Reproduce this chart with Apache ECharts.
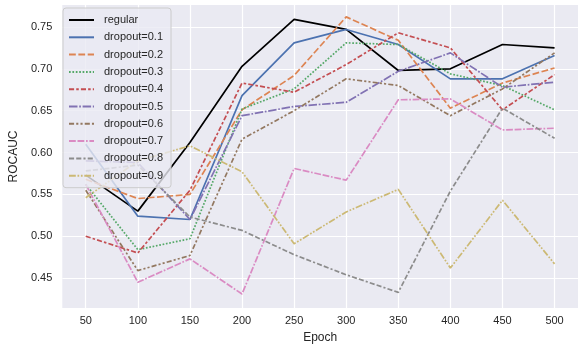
<!DOCTYPE html>
<html>
<head>
<meta charset="utf-8">
<script src="https://cdn.jsdelivr.net/npm/echarts@6/dist/echarts.min.js"></script>
<style>
  html, body { margin: 0; padding: 0; background: #fff; }
  #chart { width: 579px; height: 349px; }
</style>
</head>
<body>
<div id="chart"></div>
<script>
// data
const epochs = [50, 100, 150, 200, 250, 300, 350, 400, 450, 500]
const xTicks = [50, 100, 150, 200, 250, 300, 350, 400, 450, 500]
const yTicks = [0.45, 0.50, 0.55, 0.60, 0.65, 0.70, 0.75]

const regular = [0.573, 0.530, 0.612, 0.703, 0.759, 0.747, 0.698, 0.700, 0.729, 0.725]
const d01 = [0.610, 0.524, 0.520, 0.668, 0.731, 0.747, 0.729, 0.688, 0.688, 0.716]
const d02 = [0.568, 0.545, 0.550, 0.651, 0.692, 0.762, 0.734, 0.653, 0.683, 0.701]
const d03 = [0.562, 0.484, 0.497, 0.652, 0.676, 0.731, 0.729, 0.694, 0.680, 0.651]
const d04 = [0.500, 0.480, 0.555, 0.683, 0.672, 0.705, 0.743, 0.725, 0.651, 0.693]
const d05 = [0.590, 0.588, 0.520, 0.644, 0.655, 0.660, 0.697, 0.719, 0.678, 0.684]
const d06 = [0.555, 0.459, 0.477, 0.616, 0.650, 0.688, 0.680, 0.644, 0.676, 0.719]
const d07 = [0.562, 0.445, 0.473, 0.431, 0.581, 0.567, 0.663, 0.664, 0.627, 0.629]
const d08 = [0.578, 0.585, 0.523, 0.507, 0.478, 0.454, 0.433, 0.554, 0.653, 0.617]
const d09 = [0.546, 0.590, 0.608, 0.577, 0.491, 0.529, 0.556, 0.462, 0.543, 0.467]

const names = ['regular', 'dropout=0.1', 'dropout=0.2', 'dropout=0.3', 'dropout=0.4',
  'dropout=0.5', 'dropout=0.6', 'dropout=0.7', 'dropout=0.8', 'dropout=0.9']
const values = [regular, d01, d02, d03, d04, d05, d06, d07, d08, d09]

// seaborn deep palette + its dash sequence (scaled by line width)
const colors = ['#000000', '#4C72B0', '#DD8452', '#55A868', '#C44E52',
  '#8172B3', '#937860', '#DA8BC3', '#8C8C8C', '#CCB974']
const LW = 1.7
const dashes = [
  null,
  null,
  [4, 1.5],
  [1, 1],
  [3, 1.25, 1.5, 1.25],
  [5, 1, 1, 1],
  [3, 1.25, 1.25, 1.25, 1.25, 1.25],
  [4, 1, 4, 1, 1, 1],
  [3, 1.25, 3, 1.25, 1.25, 1.25],
  [4, 1, 1, 1, 1, 1]
]

const TEXT = '#262626'
const FONT = 'Liberation Sans, Arial, sans-serif'

const series = names.map((name, i) => ({
  name,
  type: 'line',
  data: epochs.map((e, j) => [e, values[i][j]]),
  symbol: 'none',
  lineStyle: {
    color: colors[i],
    width: LW,
    type: dashes[i] ? dashes[i].map(d => d * LW) : 'solid',
    cap: 'butt'
  },
  itemStyle: { color: colors[i] },
  emphasis: { disabled: true },
  z: 2
}))

const chart = echarts.init(document.getElementById('chart'), null, { renderer: 'canvas' })
chart.setOption({
  animation: false,
  textStyle: { fontFamily: FONT },
  grid: {
    left: 60, right: 1, top: 5, bottom: 40,
    show: true, backgroundColor: '#EAEAF2', borderWidth: 0
  },
  legend: {
    orient: 'vertical',
    left: 63, top: 8,
    padding: [6, 8, 6, 5],
    itemWidth: 25, itemHeight: 12, itemGap: 5.3,
    backgroundColor: 'rgba(234,234,242,0.8)',
    borderColor: '#cccccc', borderWidth: 1, borderRadius: 3,
    itemStyle: { opacity: 0 },
    textStyle: { color: TEXT, fontSize: 11, fontFamily: FONT, lineHeight: 12, padding: [0, 0, 0, 5] },
    data: names
  },
  xAxis: {
    type: 'value',
    min: 27.5, max: 522.5,
    name: 'Epoch', nameLocation: 'middle', nameGap: 24,
    nameTextStyle: { color: TEXT, fontSize: 12, fontFamily: FONT },
    axisLine: { show: false },
    axisTick: { show: false, customValues: xTicks },
    axisLabel: { customValues: xTicks, color: TEXT, fontSize: 11, margin: 7 },
    splitLine: { show: true, lineStyle: { color: '#ffffff', width: 1.2 } }
  },
  yAxis: {
    type: 'value',
    min: 0.4143, max: 0.7762,
    name: 'ROCAUC', nameLocation: 'middle', nameGap: 32,
    nameTextStyle: { color: TEXT, fontSize: 12, fontFamily: FONT },
    axisLine: { show: false },
    axisTick: { show: false, customValues: yTicks },
    axisLabel: { customValues: yTicks, color: TEXT, fontSize: 11, margin: 10,
      formatter: v => v.toFixed(2) },
    splitLine: { show: true, lineStyle: { color: '#ffffff', width: 1.2 } }
  },
  series
})
</script>
</body>
</html>
